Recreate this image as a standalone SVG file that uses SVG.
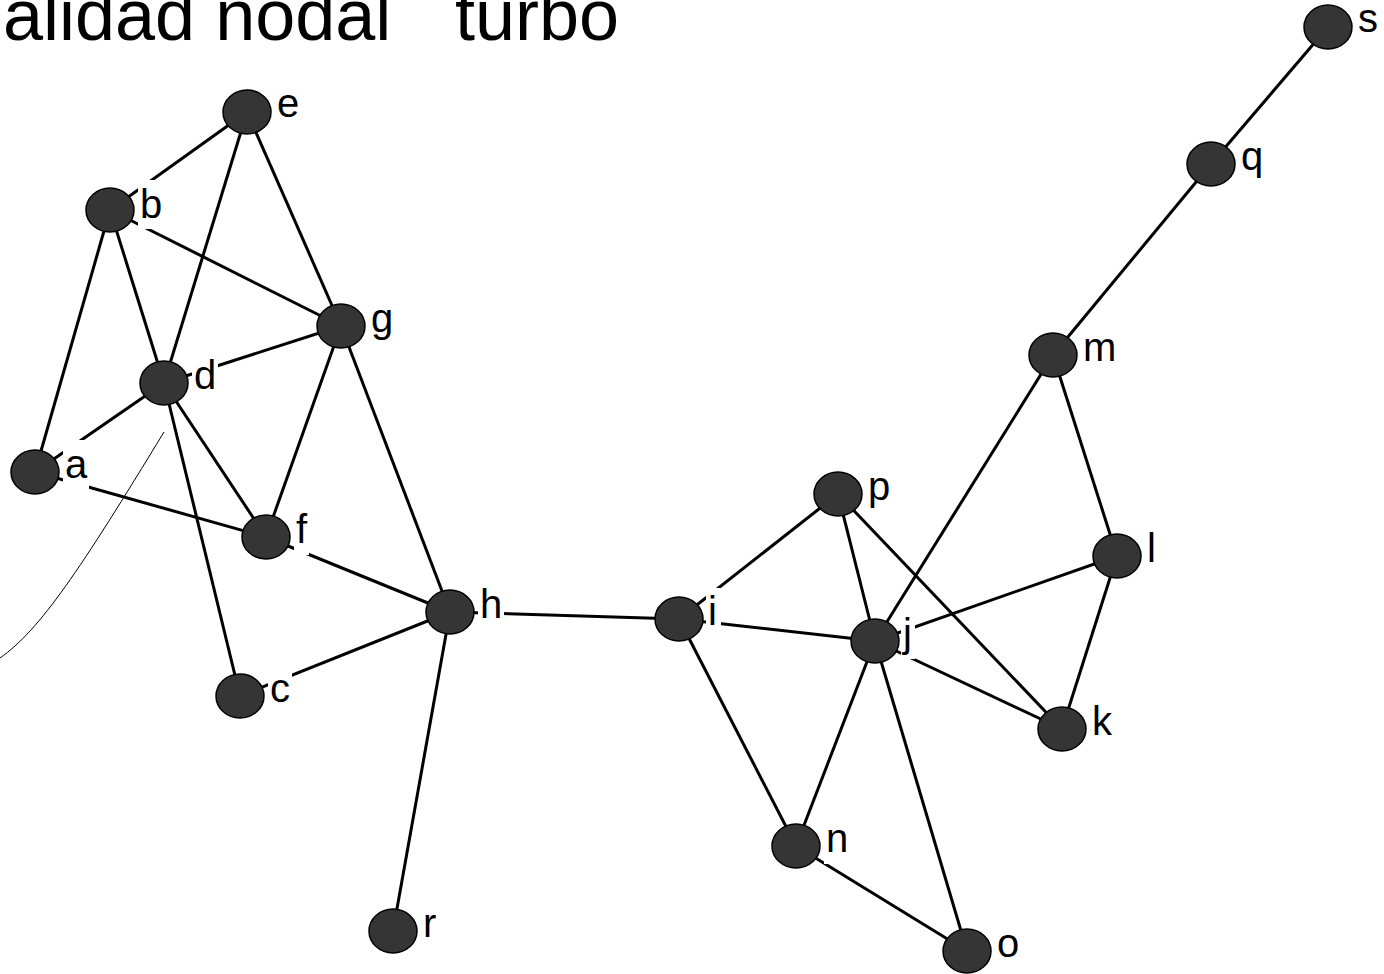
<svg xmlns="http://www.w3.org/2000/svg" width="1384" height="974" viewBox="0 0 1384 974">
<style>
.e{stroke:#000;stroke-width:3;fill:none}
.n{fill:#353535;stroke:#000;stroke-width:1.5}
.bg{fill:#fff;stroke:none}
.t{font-family:"Liberation Sans",Arial,sans-serif;font-size:40px;fill:#000}
.title{font-family:"Liberation Sans",Arial,sans-serif;font-size:72px;fill:#000}
</style>
<rect width="1384" height="974" fill="#fff"/>
<g id="title">
<text class="title" x="3" y="40">alidad nodal</text>
<text class="title" x="455" y="40">turbo</text>
</g>
<g id="connectors">
<path d="M0 658 C40 630 80 570 164 432" fill="none" stroke="#000" stroke-width="1"/>
<line class="e" x1="247" y1="112" x2="110" y2="210"/>
<line class="e" x1="247" y1="112" x2="164" y2="383"/>
<line class="e" x1="247" y1="112" x2="341" y2="326"/>
<line class="e" x1="110" y1="210" x2="341" y2="326"/>
<line class="e" x1="110" y1="210" x2="164" y2="383"/>
<line class="e" x1="110" y1="210" x2="35" y2="472"/>
<line class="e" x1="164" y1="383" x2="341" y2="326"/>
<line class="e" x1="164" y1="383" x2="35" y2="472"/>
<line class="e" x1="164" y1="383" x2="266" y2="537"/>
<line class="e" x1="164" y1="383" x2="240" y2="696"/>
<line class="e" x1="341" y1="326" x2="266" y2="537"/>
<line class="e" x1="341" y1="326" x2="450" y2="612"/>
<line class="e" x1="35" y1="472" x2="266" y2="537"/>
<line class="e" x1="266" y1="537" x2="450" y2="612"/>
<line class="e" x1="450" y1="612" x2="240" y2="696"/>
<line class="e" x1="450" y1="612" x2="393" y2="931"/>
<line class="e" x1="450" y1="612" x2="679" y2="619"/>
<line class="e" x1="679" y1="619" x2="838" y2="494"/>
<line class="e" x1="679" y1="619" x2="875" y2="641"/>
<line class="e" x1="679" y1="619" x2="796" y2="846"/>
<line class="e" x1="838" y1="494" x2="875" y2="641"/>
<line class="e" x1="838" y1="494" x2="1062" y2="729"/>
<line class="e" x1="875" y1="641" x2="1117" y2="556"/>
<line class="e" x1="875" y1="641" x2="1062" y2="729"/>
<line class="e" x1="875" y1="641" x2="1053" y2="355"/>
<line class="e" x1="875" y1="641" x2="796" y2="846"/>
<line class="e" x1="875" y1="641" x2="967" y2="951"/>
<line class="e" x1="1053" y1="355" x2="1117" y2="556"/>
<line class="e" x1="1053" y1="355" x2="1211" y2="164"/>
<line class="e" x1="1117" y1="556" x2="1062" y2="729"/>
<line class="e" x1="1211" y1="164" x2="1328" y2="27"/>
<line class="e" x1="796" y1="846" x2="967" y2="951"/>
</g>
<g id="node-e"><ellipse class="n" cx="247" cy="112" rx="24" ry="22"/><rect class="bg" x="275" y="81" width="26" height="49"/><text class="t" x="277" y="117">e</text></g>
<g id="node-b"><ellipse class="n" cx="110" cy="210" rx="24" ry="22"/><rect class="bg" x="138" y="180" width="26" height="49"/><text class="t" x="140" y="218">b</text></g>
<g id="node-g"><ellipse class="n" cx="341" cy="326" rx="24" ry="22"/><rect class="bg" x="369" y="295" width="26" height="49"/><text class="t" x="371" y="332">g</text></g>
<g id="node-d"><ellipse class="n" cx="164" cy="383" rx="24" ry="22"/><rect class="bg" x="192" y="352" width="26" height="49"/><text class="t" x="194" y="389">d</text></g>
<g id="node-a"><ellipse class="n" cx="35" cy="472" rx="24" ry="22"/><rect class="bg" x="63" y="440" width="26" height="49"/><text class="t" x="65" y="478">a</text></g>
<g id="node-f"><ellipse class="n" cx="266" cy="537" rx="24" ry="22"/><rect class="bg" x="294" y="506" width="15" height="49"/><text class="t" x="296" y="543">f</text></g>
<g id="node-h"><ellipse class="n" cx="450" cy="612" rx="24" ry="22"/><rect class="bg" x="478" y="581" width="26" height="49"/><text class="t" x="480" y="618">h</text></g>
<g id="node-c"><ellipse class="n" cx="240" cy="696" rx="24" ry="22"/><rect class="bg" x="268" y="665" width="24" height="49"/><text class="t" x="270" y="702">c</text></g>
<g id="node-r"><ellipse class="n" cx="393" cy="931" rx="24" ry="22"/><rect class="bg" x="421" y="900" width="17" height="49"/><text class="t" x="423" y="937">r</text></g>
<g id="node-i"><ellipse class="n" cx="679" cy="619" rx="24" ry="22"/><rect class="bg" x="706" y="588" width="15" height="49"/><text class="t" x="708" y="625">i</text></g>
<g id="node-p"><ellipse class="n" cx="838" cy="494" rx="24" ry="22"/><rect class="bg" x="866" y="463" width="26" height="49"/><text class="t" x="868" y="500">p</text></g>
<g id="node-j"><ellipse class="n" cx="875" cy="641" rx="24" ry="22"/><rect class="bg" x="901" y="610" width="14" height="49"/><text class="t" x="903" y="647">j</text></g>
<g id="node-k"><ellipse class="n" cx="1062" cy="729" rx="24" ry="22"/><rect class="bg" x="1090" y="698" width="24" height="49"/><text class="t" x="1092" y="735">k</text></g>
<g id="node-l"><ellipse class="n" cx="1117" cy="556" rx="24" ry="22"/><rect class="bg" x="1145" y="525" width="13" height="49"/><text class="t" x="1147" y="562">l</text></g>
<g id="node-m"><ellipse class="n" cx="1053" cy="355" rx="24" ry="22"/><rect class="bg" x="1081" y="324" width="37" height="49"/><text class="t" x="1083" y="361">m</text></g>
<g id="node-q"><ellipse class="n" cx="1211" cy="164" rx="24" ry="22"/><rect class="bg" x="1239" y="133" width="26" height="49"/><text class="t" x="1241" y="170">q</text></g>
<g id="node-s"><ellipse class="n" cx="1328" cy="27" rx="24" ry="22"/><rect class="bg" x="1356" y="0" width="24" height="45"/><text class="t" x="1358" y="32">s</text></g>
<g id="node-n"><ellipse class="n" cx="796" cy="846" rx="24" ry="22"/><rect class="bg" x="824" y="815" width="26" height="49"/><text class="t" x="826" y="852">n</text></g>
<g id="node-o"><ellipse class="n" cx="967" cy="951" rx="24" ry="22"/><rect class="bg" x="995" y="920" width="26" height="49"/><text class="t" x="997" y="957">o</text></g>
</svg>
